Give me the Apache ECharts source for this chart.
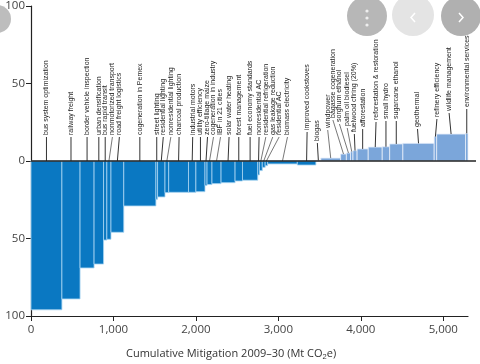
<!DOCTYPE html>
<html><head><meta charset="utf-8">
<script src="https://cdn.jsdelivr.net/npm/echarts@6/dist/echarts.min.js"></script>
<style>html,body{margin:0;padding:0;background:#fff}#c{width:480px;height:364px}</style>
</head><body><div id="c"></div>
<script>
// ---- data ----
const measures = [
  'bus system optimization','railway freight','border vehicle inspection','urban densification',
  'bus rapid transit','nonmotorized transport','road freight logistics','cogeneration in Pemex',
  'street lighting','residential lighting','nonresidential lighting','charcoal production',
  'industrial motors','utility efficiency','zero-tillage maize','cogeneration in industry',
  'IBF in 21 cities','solar water heating','forest management','fuel economy standards',
  'nonresidential AC','residential refrigeration','gas leakage reduction','residential AC',
  'biomass electricity','improved cookstoves','biogas','windpower',
  'bagasse cogeneration','sorghum ethanol','palm oil biodiesel','fuelwood cfiring (20%)',
  'afforestation','reforestation & restoration','small hydro','sugarcane ethanol',
  'geothermal','refinery efficiency','wildlife management','environmental services'
];
const mitigation = [ // Mt CO2e, bar widths
  375,220,170,115,40,50,155,390,
  20,90,45,240,90,110,25,60,
  110,170,90,185,20,35,35,30,
  360,225,60,240,70,50,30,50,
  135,170,90,160,380,30,350,30
];
const costs = [ // US$/t CO2e, bar heights
  -96,-89,-69,-66.5,-51,-50.5,-46,-29,
  -24.7,-23.2,-20.4,-20.2,-20.2,-19.8,-15.8,-15.2,
  -14.6,-14,-12.9,-12.4,-9,-6.2,-4.1,-3,
  -1.9,-2.6,0.4,1.9,4.5,5.2,6,6.7,
  7.8,9,9.2,11,11.4,15.7,17.4,17.8
];
const xTicks = [0,1000,2000,3000,4000,5000];
const yTicks = [-100,-50,0,50,100];

// ---- layout of the callout labels (pixels) ----
const labelDx = [
  0,0,0,0,0,3.5,2,0,
  0,2,4,0.5,0.5,0,1.5,4,
  4,1,0,0,0.5,5,9,12.7,
  5,0.5,-1,-3,-10.6,-9,-4.5,-0.7,
  0,0.8,0,0,-1,1.5,-2,0
];
const labelRise = [
  25,25,25,25,25,25,25,25,
  25,25,25,25,25,25,25,25,
  25,25,25,25,25,25,25,25,
  25,30,19,32,42,38,34,28,
  33,40,41,41,33,43,49,53
];

const DARK = '#0a78c2', LIGHT = '#7ba6da';
const items = [];
let acc = 0;
mitigation.forEach((w, i) => { items.push([acc, acc + w, costs[i], i]); acc += w; });
const xMax = 5300;

const chart = echarts.init(document.getElementById('c'), null, {renderer: 'canvas'});
chart.setOption({
  animation: false,
  grid: {left: 31, right: 12, top: 6, bottom: 48, containLabel: false, outerBoundsMode: 'none'},
  xAxis: {
    type: 'value', min: 0, max: xMax,
    axisLine: {onZero: false, lineStyle: {color: '#222', width: 1.2}},
    axisTick: {show: true, length: 5, lineStyle: {color: '#222'}, customValues: xTicks},
    axisLabel: {customValues: xTicks, color: '#444', fontSize: 11.5, fontFamily: 'Open Sans', margin: 8,
      formatter: v => v.toLocaleString('en-US')},
    splitLine: {show: false}
  },
  yAxis: {
    type: 'value', min: -100, max: 100, interval: 50,
    name: 'US${s|/}t CO{sub|2}e', nameLocation: 'middle', nameGap: 34,
    nameTextStyle: {color: '#666', fontSize: 11, fontFamily: 'Open Sans',
      rich: {s: {fontSize: 11, color: '#666'}, sub: {fontSize: 8, color: '#666', verticalAlign: 'bottom'}}},
    axisLine: {show: true, lineStyle: {color: '#222', width: 1.2}},
    axisTick: {show: true, length: 5, lineStyle: {color: '#222'}},
    axisLabel: {color: '#444', fontSize: 11.5, fontFamily: 'Open Sans', margin: 6,
      formatter: v => String(Math.abs(v))},
    splitLine: {show: false}
  },
  series: [
    {
      type: 'custom', name: 'bars', data: items,
      encode: {x: [0, 1], y: 2},
      renderItem(params, api) {
        const s = api.value(0), e = api.value(1), v = api.value(2);
        const p0 = api.coord([s, 0]), p1 = api.coord([e, v]);
        return {
          type: 'rect',
          shape: {x: p0[0], y: Math.min(p0[1], p1[1]), width: p1[0] - p0[0], height: Math.abs(p1[1] - p0[1])},
          style: {fill: v < 0 ? DARK : LIGHT, stroke: v < 0 ? '#a8d4f1' : '#e6eefa', lineWidth: 0.8}
        };
      }
    },
    {
      type: 'custom', name: 'zero', data: [[0, xMax]],
      renderItem(params, api) {
        const a = api.coord([api.value(0), 0]), b = api.coord([api.value(1), 0]);
        return {type: 'line', shape: {x1: a[0], y1: a[1], x2: b[0] + 8, y2: b[1]},
          style: {stroke: '#222', lineWidth: 1.5}, z2: 10};
      }
    },
    {
      type: 'custom', name: 'labels', data: items,
      encode: {x: [0, 1], y: 2},
      renderItem(params, api) {
        const s = api.value(0), e = api.value(1), v = api.value(2), i = api.value(3);
        const p0 = api.coord([s, 0]), p1 = api.coord([e, v]);
        const cx = (p0[0] + p1[0]) / 2;
        const y0 = v > 0 ? p1[1] : p0[1];
        const lx = cx + labelDx[i];
        const ly = p0[1] - labelRise[i];
        const slanted = Math.abs(labelDx[i]) > 2.5;
        return {
          type: 'group',
          children: [
            {type: 'line', shape: {x1: cx, y1: y0, x2: lx, y2: ly + 1},
              style: {stroke: slanted ? '#555' : '#333', lineWidth: slanted ? 0.8 : 1}},
            {type: 'text', x: lx, y: ly - 1, rotation: Math.PI / 2,
              style: {text: measures[i], fontSize: 7, fill: '#222', fontFamily: 'Liberation Sans',
                align: 'left', verticalAlign: 'middle'}}
          ]
        };
      }
    }
  ],
  graphic: [
    {type: 'text', left: 126, top: 348,
      style: {text: 'Cumulative Mitigation 2009–30 (Mt CO{sub|2}e)', fontSize: 11, fill: '#333',
        fontFamily: 'Open Sans', rich: {sub: {fontSize: 7.5, fill: '#333', padding: [6, 0, 0, 0]}}}},
    {type: 'circle', shape: {cx: -3, cy: 19, r: 14}, style: {fill: '#bdbdbd'}},
    {type: 'circle', shape: {cx: 367, cy: 16, r: 20}, style: {fill: '#b7b7b7'}},
    {type: 'circle', shape: {cx: 367, cy: 11, r: 1.6}, style: {fill: '#eeeeee'}},
    {type: 'circle', shape: {cx: 367, cy: 18, r: 1.6}, style: {fill: '#eeeeee'}},
    {type: 'circle', shape: {cx: 367, cy: 25, r: 1.6}, style: {fill: '#eeeeee'}},
    {type: 'circle', shape: {cx: 413, cy: 15, r: 21}, style: {fill: '#e4e4e4'}},
    {type: 'polyline', shape: {points: [[415, 13], [411, 17.5], [415, 22]]}, style: {stroke: '#fff', lineWidth: 1.5, fill: null}},
    {type: 'circle', shape: {cx: 461, cy: 16, r: 20}, style: {fill: '#b0b0b0'}},
    {type: 'polyline', shape: {points: [[459, 13], [463, 17.5], [459, 22]]}, style: {stroke: '#fff', lineWidth: 1.5, fill: null}}
  ]
});
</script>
</body></html>
